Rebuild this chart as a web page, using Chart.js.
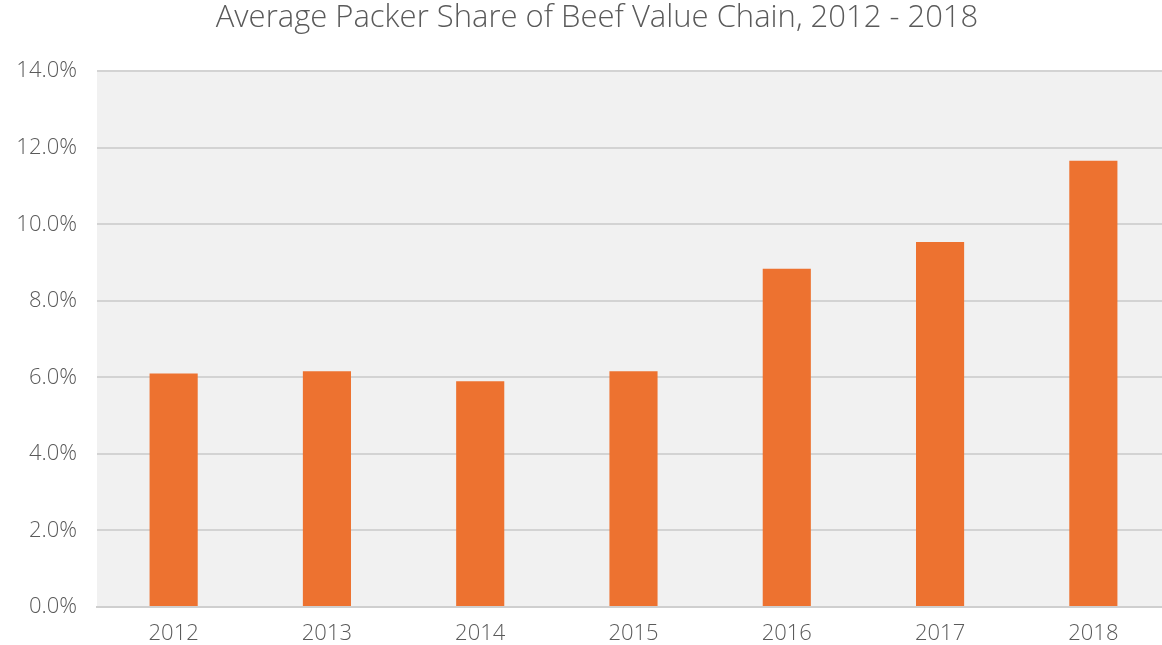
<!DOCTYPE html>
<html>
<head>
<meta charset="utf-8">
<script src="https://cdn.jsdelivr.net/npm/chart.js@4"></script>
<style>
  html, body { margin: 0; padding: 0; background: #fff; overflow: hidden; }
  #wrap { width: 1162px; height: 645px; overflow: hidden; }
  canvas { display: block; }
</style>
</head>
<body>
<div id="wrap"><canvas id="packer-chart" width="1170" height="645"></canvas></div>
<script>
const years = ['2012', '2013', '2014', '2015', '2016', '2017', '2018'];
const packerShare = [6.10, 6.16, 5.90, 6.16, 8.84, 9.54, 11.66];
const yTicks = [0, 2, 4, 6, 8, 10, 12, 14];

const plotBackground = {
  id: 'plotBackground',
  afterLayout(chart) {
    // the title in the original is centred a bit right of the canvas middle
    if (chart.titleBlock) chart.titleBlock.left += 24;
  },
  beforeDraw(chart) {
    const { ctx, chartArea } = chart;
    ctx.save();
    ctx.fillStyle = '#f1f1f1';
    ctx.fillRect(chartArea.left, chartArea.top, chartArea.width, chartArea.height);
    ctx.restore();
  }
};

window.addEventListener('load', () => {
  const ctx = document.getElementById('packer-chart');
  const tickFont = { family: 'Open Sans', size: 22, weight: '300' };

  new Chart(ctx, {
    type: 'bar',
    data: {
      labels: years,
      datasets: [{
        label: 'Packer Share',
        data: packerShare,
        backgroundColor: '#ed7230',
        borderWidth: 0,
        barPercentage: 0.314,
        categoryPercentage: 1
      }]
    },
    options: {
      responsive: false,
      animation: false,
      layout: { padding: 0 },
      scales: {
        x: {
          grid: { display: false, drawTicks: false },
          border: { display: true, color: '#cfcfcf', width: 2 },
          ticks: { color: '#5a5a5a', font: tickFont, padding: 14 },
          afterFit(axis) { axis.height = 38; }
        },
        y: {
          min: 0,
          max: 14,
          afterBuildTicks(axis) { axis.ticks = yTicks.map(v => ({ value: v })); },
          afterFit(axis) { axis.width = 97; },
          grid: { color: '#d3d3d3', lineWidth: 2, drawTicks: false },
          border: { display: false },
          ticks: {
            color: '#5a5a5a',
            font: tickFont,
            padding: 20,
            callback: v => v.toFixed(1) + '%'
          }
        }
      },
      plugins: {
        legend: { display: false },
        tooltip: { enabled: false },
        title: {
          display: true,
          text: 'Average Packer Share of Beef Value Chain, 2012 - 2018',
          color: '#5a5a5a',
          font: { family: 'Open Sans', size: 31, weight: '300' },
          padding: { top: 0, bottom: 34 }
        }
      }
    },
    plugins: [plotBackground]
  });
});
</script>
</body>
</html>
